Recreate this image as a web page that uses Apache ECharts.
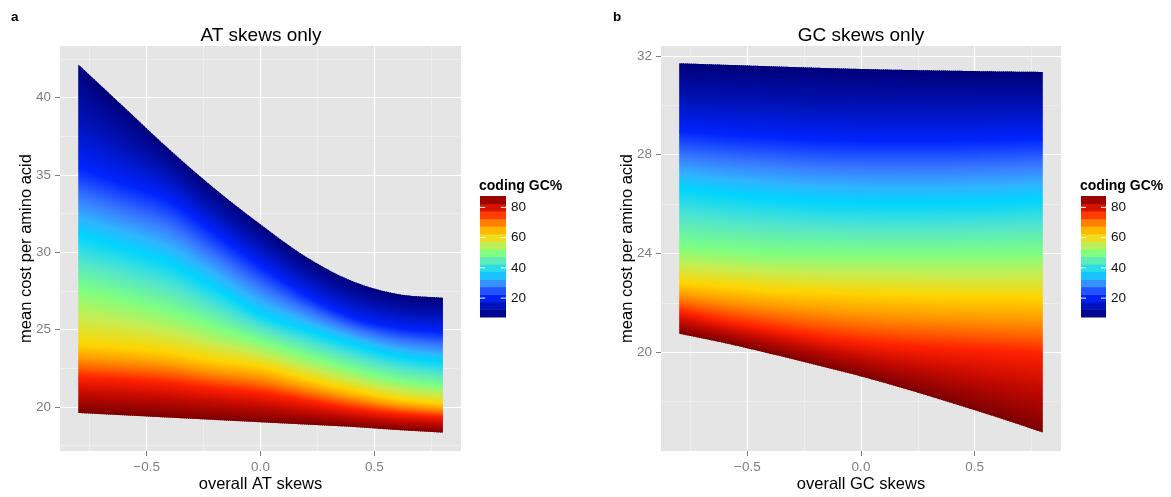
<!DOCTYPE html>
<html>
<head>
<meta charset="utf-8">
<script src="https://cdn.jsdelivr.net/npm/echarts@6/dist/echarts.min.js"></script>
<style>
  html, body { margin: 0; padding: 0; background: #fff; }
  #chart { width: 1171px; height: 497px; }
</style>
</head>
<body>
<div id="chart"></div>
<script>
// skew positions where the curves were read (both panels)
const skews = [-0.8, -0.6, -0.4, -0.2, 0, 0.2, 0.4, 0.6, 0.8];
// coding GC% of each traced curve, top edge -> bottom edge
const gcLevels = [7.5, 21, 37, 50, 62, 77, 87.5];

// panel a : mean cost per amino acid along the AT skew, one row per gc level
const atCurves = [
  [42.15, 39.4, 36.65, 34.1, 31.8, 29.7, 28.15, 27.3, 27.05],
  [35.5, 34.4, 33.3, 31.2, 29.1, 27.2, 25.8, 25.1, 24.8],
  [31.15, 30.3, 29.3, 27.7, 26.0, 25.0, 24.1, 23.3, 22.9],
  [27.6, 26.9, 26.1, 25.1, 24.2, 23.3, 22.4, 21.7, 21.3],
  [24.0, 23.8, 23.5, 23.0, 22.6, 21.8, 21.1, 20.5, 20.2],
  [21.9, 21.75, 21.55, 21.2, 20.9, 20.4, 19.9, 19.55, 19.35],
  [19.6, 19.45, 19.3, 19.15, 19.0, 18.85, 18.7, 18.5, 18.33]
];

// panel b : same, along the GC skew
const gcCurves = [
  [31.7, 31.64, 31.58, 31.52, 31.47, 31.43, 31.4, 31.37, 31.35],
  [28.95, 28.8, 28.7, 28.6, 28.55, 28.55, 28.55, 28.6, 28.65],
  [26.65, 26.42, 26.25, 26.12, 26.05, 26.03, 26.05, 26.1, 26.2],
  [24.25, 24.1, 24.0, 23.97, 23.95, 23.95, 23.95, 23.97, 24.0],
  [22.8, 22.65, 22.5, 22.42, 22.35, 22.3, 22.25, 22.22, 22.2],
  [21.65, 21.25, 20.95, 20.65, 20.4, 20.25, 20.15, 20.05, 19.95],
  [20.75, 20.37, 19.94, 19.49, 19.02, 18.5, 17.94, 17.36, 16.75]
];

// colour bar
const gcBins = [10, 15, 20, 25, 30, 35, 40, 45, 50, 55, 60, 65, 70, 75, 80, 85];
const legendTicks = [20, 40, 60, 80];

// axis ticks
const skewTicks = [-0.5, 0, 0.5];
const skewMinor = [-0.75, -0.25, 0.25, 0.75];
const atCostTicks = [20, 25, 30, 35, 40];
const atCostMinor = [17.5, 22.5, 27.5, 32.5, 37.5, 42.5];
const gcCostTicks = [20, 24, 28, 32];
const gcCostMinor = [18, 22, 26, 30];

// jet-like scale used for coding GC%
const palette = [
  [7.5, '#00007a'], [14, '#0010b0'], [21, '#0024ff'], [28, '#3a78ff'],
  [33, '#30b4ff'], [37, '#00d4ff'], [43, '#50e4d0'], [50, '#80ff80'],
  [56, '#c8ec50'], [62, '#ffd400'], [68, '#ff9a00'], [73, '#ff5a00'],
  [77, '#ff2000'], [82, '#c00800'], [87.5, '#7a0000']
];

const FONT = 'Liberation Sans';
const GREY = '#7f7f7f';
const SLICE_PX = 2;

function hexRgb(h) {
  return [parseInt(h.slice(1, 3), 16), parseInt(h.slice(3, 5), 16), parseInt(h.slice(5, 7), 16)];
}

function gcColor(g) {
  if (g <= palette[0][0]) return palette[0][1];
  for (let i = 1; i < palette.length; i++) {
    if (g <= palette[i][0]) {
      const t = (g - palette[i - 1][0]) / (palette[i][0] - palette[i - 1][0]);
      const a = hexRgb(palette[i - 1][1]);
      const b = hexRgb(palette[i][1]);
      const c = a.map((v, j) => Math.round(v + (b[j] - v) * t));
      return 'rgb(' + c.join(',') + ')';
    }
  }
  return palette[palette.length - 1][1];
}

// smooth pixel-space curve through the projected points (catmull-rom),
// ends extended linearly so the first/last piece stays straight-ish
function curveAt(pts, u) {
  const n = pts.length;
  const i = Math.min(Math.floor(u), n - 2);
  const t = u - i;
  const y = j => pts[j][1];
  const p1 = y(i);
  const p2 = y(i + 1);
  const p0 = i > 0 ? y(i - 1) : 2 * p1 - p2;
  const p3 = i + 2 < n ? y(i + 2) : 2 * p2 - p1;
  const t2 = t * t, t3 = t2 * t;
  return 0.5 * ((2 * p1) + (-p0 + p2) * t + (2 * p0 - 5 * p1 + 4 * p2 - p3) * t2 + (-p0 + 3 * p1 - 3 * p2 + p3) * t3);
}

function bandRenderer(curves) {
  return function (params, api) {
    const k = api.value(0);
    const top = skews.map((s, i) => api.coord([s, curves[k][i]]));
    const bot = skews.map((s, i) => api.coord([s, curves[k + 1][i]]));
    const x0 = top[0][0];
    const x1 = top[top.length - 1][0];
    const span = x1 - x0;
    const steps = skews.length - 1;
    const stops = [];
    for (let s = 0; s <= 8; s++) {
      stops.push({ offset: s / 8, color: gcColor(gcLevels[k] + (gcLevels[k + 1] - gcLevels[k]) * s / 8) });
    }
    const last = k === curves.length - 2;
    const ext = last ? 0 : 1;
    const uOf = x => (x - x0) / span * steps;
    const children = [];
    let xa = x0;
    while (xa < x1 - 0.01) {
      const xb = Math.min(Math.floor(xa) + SLICE_PX, x1);
      const xbDraw = xb < x1 ? Math.min(xb + 1, x1) : x1;
      const ta = curveAt(top, uOf(xa)), tb = curveAt(top, uOf(xbDraw));
      const ba = curveAt(bot, uOf(xa)) + ext, bb = curveAt(bot, uOf(xbDraw)) + ext;
      const xm = (xa + xb) / 2;
      const um = uOf(xm);
      children.push({
        type: 'polygon',
        shape: { points: [[xa, ta], [xbDraw, tb], [xbDraw, bb], [xa, ba]] },
        style: {
          fill: {
            type: 'linear', global: true,
            x: xm, y: curveAt(top, um), x2: xm, y2: curveAt(bot, um),
            colorStops: stops
          }
        }
      });
      xa = xb;
    }
    return { type: 'group', children: children };
  };
}

function legendRenderer(params, api) {
  const v = api.value(0);
  const p0 = api.coord([0, v - 2.5]);
  const p1 = api.coord([1, v + 2.5]);
  const w = p1[0] - p0[0];
  const children = [{
    type: 'rect',
    shape: { x: p0[0], y: p1[1], width: w, height: p0[1] - p1[1] + 0.5 },
    style: { fill: gcColor(v) }
  }];
  if (legendTicks.indexOf(v) >= 0) {
    const c = api.coord([0, v]);
    children.push({ type: 'line', shape: { x1: c[0], y1: c[1], x2: c[0] + w * 0.2, y2: c[1] }, style: { stroke: '#fff', lineWidth: 1 } });
    children.push({ type: 'line', shape: { x1: c[0] + w * 0.8, y1: c[1], x2: c[0] + w, y2: c[1] }, style: { stroke: '#fff', lineWidth: 1 } });
  }
  return { type: 'group', children: children };
}

const bands = gcLevels.slice(0, -1).map((g, k) => [k]);

function skewLabel(v) {
  return v < 0 ? '\u2212' + Math.abs(v).toFixed(1) : v.toFixed(1);
}

function mainX(grid, name) {
  return {
    gridIndex: grid, type: 'value', min: -0.88, max: 0.88, position: 'bottom',
    axisLine: { show: false, onZero: false },
    axisTick: { show: true, length: 5, customValues: skewTicks, lineStyle: { color: GREY, width: 1 } },
    axisLabel: { customValues: skewTicks, formatter: skewLabel, color: GREY, fontSize: 13.5, fontFamily: FONT, margin: 9 },
    splitLine: { show: true, lineStyle: { color: '#ffffff', width: 1.2 } },
    name: name, nameLocation: 'middle', nameGap: 25, nameMoveOverlap: false,
    nameTextStyle: { color: '#000', fontSize: 16.5, fontFamily: FONT }
  };
}

function minorX(grid) {
  return {
    gridIndex: grid, type: 'value', min: -0.88, max: 0.88, position: 'bottom',
    axisLine: { show: false, onZero: false }, axisLabel: { show: false },
    axisTick: { show: false, customValues: skewMinor },
    splitLine: { show: true, lineStyle: { color: '#f2f2f2', width: 0.7 } }
  };
}

function mainY(grid, min, max, ticks) {
  return {
    gridIndex: grid, type: 'value', min: min, max: max, position: 'left',
    axisLine: { show: false, onZero: false },
    axisTick: { show: true, length: 5, customValues: ticks, lineStyle: { color: GREY, width: 1 } },
    axisLabel: { customValues: ticks, color: GREY, fontSize: 13.5, fontFamily: FONT, margin: 9 },
    splitLine: { show: true, lineStyle: { color: '#ffffff', width: 1.2 } },
    name: 'mean cost per amino acid', nameLocation: 'middle', nameGap: 25, nameMoveOverlap: false,
    nameTextStyle: { color: '#000', fontSize: 16.5, fontFamily: FONT }
  };
}

function minorY(grid, min, max, ticks) {
  return {
    gridIndex: grid, type: 'value', min: min, max: max, position: 'left',
    axisLine: { show: false, onZero: false }, axisLabel: { show: false },
    axisTick: { show: false, customValues: ticks },
    splitLine: { show: true, lineStyle: { color: '#f2f2f2', width: 0.7 } }
  };
}

function legendX(grid) {
  return { gridIndex: grid, type: 'value', min: 0, max: 1, show: false };
}

function legendY(grid) {
  return {
    gridIndex: grid, type: 'value', min: 7.5, max: 87.5, position: 'right',
    axisLine: { show: false, onZero: false }, axisTick: { show: false }, splitLine: { show: false },
    axisLabel: { customValues: legendTicks, color: '#111', fontSize: 13.5, fontFamily: FONT, margin: 5 }
  };
}

const chart = echarts.init(document.getElementById('chart'), null, { renderer: 'canvas' });

const option = {
  animation: false,
  backgroundColor: '#ffffff',
  title: [
    { text: 'a', left: 11, top: 10, padding: 0, textStyle: { fontSize: 13.5, fontWeight: 'bold', color: '#000', fontFamily: FONT } },
    { text: 'b', left: 613, top: 10, padding: 0, textStyle: { fontSize: 13.5, fontWeight: 'bold', color: '#000', fontFamily: FONT } },
    { text: 'AT skews only', left: 261, top: 26, padding: 0, textAlign: 'center', textStyle: { fontSize: 19, fontWeight: 'normal', color: '#000', fontFamily: FONT } },
    { text: 'GC skews only', left: 861, top: 26, padding: 0, textAlign: 'center', textStyle: { fontSize: 19, fontWeight: 'normal', color: '#000', fontFamily: FONT } },
    { text: 'coding GC%', left: 479, top: 179, padding: 0, textStyle: { fontSize: 14, fontWeight: 'bold', color: '#000', fontFamily: FONT } },
    { text: 'coding GC%', left: 1080, top: 179, padding: 0, textStyle: { fontSize: 14, fontWeight: 'bold', color: '#000', fontFamily: FONT } }
  ],
  grid: [
    { left: 60, top: 46, width: 401, height: 405, show: true, backgroundColor: '#e5e5e5', borderWidth: 0, outerBoundsMode: 'none' },
    { left: 661, top: 46, width: 400, height: 405, show: true, backgroundColor: '#e5e5e5', borderWidth: 0, outerBoundsMode: 'none' },
    { left: 480, top: 196, width: 26, height: 121, outerBoundsMode: 'none' },
    { left: 1081, top: 196, width: 25, height: 121, outerBoundsMode: 'none' }
  ],
  xAxis: [
    minorX(0), mainX(0, 'overall AT skews'),
    minorX(1), mainX(1, 'overall GC skews'),
    legendX(2), legendX(3)
  ],
  yAxis: [
    minorY(0, 17.14, 43.34, atCostMinor), mainY(0, 17.14, 43.34, atCostTicks),
    minorY(1, 16.0, 32.4, gcCostMinor), mainY(1, 16.0, 32.4, gcCostTicks),
    legendY(2), legendY(3)
  ],
  series: [
    { type: 'custom', xAxisIndex: 1, yAxisIndex: 1, renderItem: bandRenderer(atCurves), data: bands, silent: true },
    { type: 'custom', xAxisIndex: 3, yAxisIndex: 3, renderItem: bandRenderer(gcCurves), data: bands, silent: true },
    { type: 'custom', xAxisIndex: 4, yAxisIndex: 4, renderItem: legendRenderer, data: gcBins.map(v => [v]), silent: true },
    { type: 'custom', xAxisIndex: 5, yAxisIndex: 5, renderItem: legendRenderer, data: gcBins.map(v => [v]), silent: true }
  ]
};

chart.setOption(option);
</script>
</body>
</html>
